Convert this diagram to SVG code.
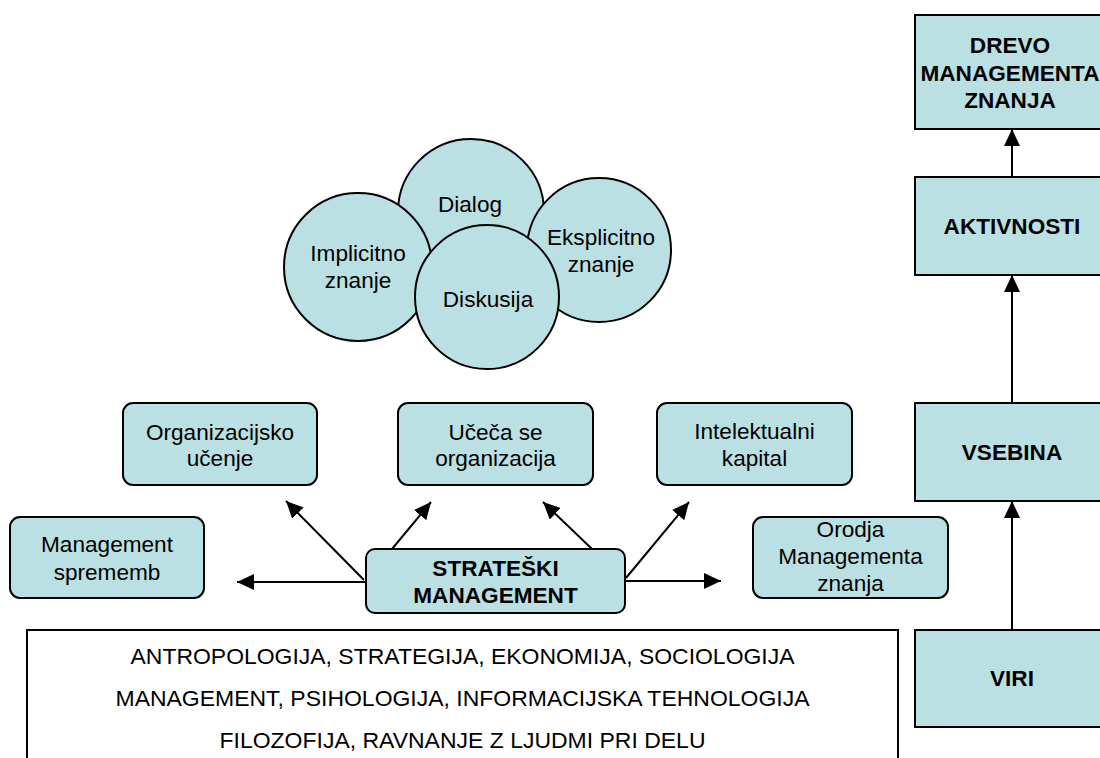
<svg xmlns="http://www.w3.org/2000/svg" width="1100" height="758" viewBox="0 0 1100 758">
<style>
  .n { fill: #BBE0E3; stroke: #000; stroke-width: 2; }
  .w { fill: #FFFFFF; stroke: #000; stroke-width: 2; }
  .t { font-family: "Liberation Sans", Arial, sans-serif; font-size: 22.6px; fill: #000; text-anchor: middle; }
  .b { font-weight: bold; }
  .c { stroke: #000; stroke-width: 2; fill: none; marker-end: url(#ah); }
</style>
<defs>
  <marker id="ah" markerUnits="userSpaceOnUse" markerWidth="17" markerHeight="16" refX="17" refY="8" orient="auto">
    <path d="M0,0 L17,8 L0,16 Z" fill="#000"/>
  </marker>
</defs>
<rect width="1100" height="758" fill="#FFFFFF"/>

<g id="disciplines">
  <rect class="w" x="27" y="630" width="871" height="150"/>
  <text class="t" x="462.5" y="664" textLength="664" lengthAdjust="spacingAndGlyphs">ANTROPOLOGIJA, STRATEGIJA, EKONOMIJA, SOCIOLOGIJA</text>
  <text class="t" x="462.5" y="706" textLength="694" lengthAdjust="spacingAndGlyphs">MANAGEMENT, PSIHOLOGIJA, INFORMACIJSKA TEHNOLOGIJA</text>
  <text class="t" x="462.5" y="748" textLength="486" lengthAdjust="spacingAndGlyphs">FILOZOFIJA, RAVNANJE Z LJUDMI PRI DELU</text>
</g>

<g id="circle-dialog">
  <circle class="n" cx="471" cy="212" r="73"/>
  <text class="t" x="470" y="212">Dialog</text>
</g>
<g id="circle-eksplicitno">
  <circle class="n" cx="599" cy="250" r="72"/>
  <text class="t" x="601" y="245">Eksplicitno</text>
  <text class="t" x="601" y="272">znanje</text>
</g>
<g id="circle-implicitno">
  <circle class="n" cx="358" cy="267" r="74"/>
  <text class="t" x="358" y="261">Implicitno</text>
  <text class="t" x="358" y="288">znanje</text>
</g>
<g id="circle-diskusija">
  <circle class="n" cx="487" cy="297" r="72"/>
  <text class="t" x="488" y="307">Diskusija</text>
</g>

<g id="organizacijsko-ucenje">
  <rect class="n" x="123" y="403" width="194" height="82" rx="10"/>
  <text class="t" x="220" y="440">Organizacijsko</text>
  <text class="t" x="220" y="466">učenje</text>
</g>
<g id="uceca-se-organizacija">
  <rect class="n" x="398" y="403" width="195" height="82" rx="10"/>
  <text class="t" x="495.5" y="440">Učeča se</text>
  <text class="t" x="495.5" y="466">organizacija</text>
</g>
<g id="intelektualni-kapital">
  <rect class="n" x="657" y="403" width="195" height="82" rx="10"/>
  <text class="t" x="754.5" y="439">Intelektualni</text>
  <text class="t" x="754.5" y="466">kapital</text>
</g>
<g id="management-sprememb">
  <rect class="n" x="10" y="517" width="194" height="81" rx="10"/>
  <text class="t" x="107" y="552">Management</text>
  <text class="t" x="107" y="580">sprememb</text>
</g>
<g id="orodja">
  <rect class="n" x="753" y="517" width="195" height="81" rx="10"/>
  <text class="t" x="850.5" y="537">Orodja</text>
  <text class="t" x="850.5" y="564">Managementa</text>
  <text class="t" x="850.5" y="591">znanja</text>
</g>
<g id="strateski-management">
  <rect class="n" x="366" y="549" width="259" height="64" rx="9"/>
  <text class="t b" x="495.5" y="576">STRATEŠKI</text>
  <text class="t b" x="495.5" y="603">MANAGEMENT</text>
</g>

<g id="drevo">
  <rect class="n" x="915" y="15" width="200" height="114"/>
  <text class="t b" x="1010" y="53">DREVO</text>
  <text class="t b" x="1010" y="81">MANAGEMENTA</text>
  <text class="t b" x="1010" y="108">ZNANJA</text>
</g>
<g id="aktivnosti">
  <rect class="n" x="915" y="177" width="200" height="98"/>
  <text class="t b" x="1012" y="234">AKTIVNOSTI</text>
</g>
<g id="vsebina">
  <rect class="n" x="915" y="403" width="200" height="98"/>
  <text class="t b" x="1012" y="460">VSEBINA</text>
</g>
<g id="viri">
  <rect class="n" x="915" y="630" width="200" height="97"/>
  <text class="t b" x="1012" y="686">VIRI</text>
</g>

<g id="connectors">
  <line class="c" x1="365" y1="582" x2="237" y2="582"/>
  <line class="c" x1="364" y1="580" x2="286" y2="501"/>
  <line class="c" x1="392" y1="549" x2="431" y2="502"/>
  <line class="c" x1="592" y1="549" x2="543" y2="502"/>
  <line class="c" x1="626" y1="578" x2="689" y2="502"/>
  <line class="c" x1="625" y1="581" x2="721" y2="581"/>
  <line class="c" x1="1012" y1="630" x2="1012" y2="501"/>
  <line class="c" x1="1012" y1="403" x2="1012" y2="275"/>
  <line class="c" x1="1012" y1="177" x2="1012" y2="129"/>
</g>
</svg>
